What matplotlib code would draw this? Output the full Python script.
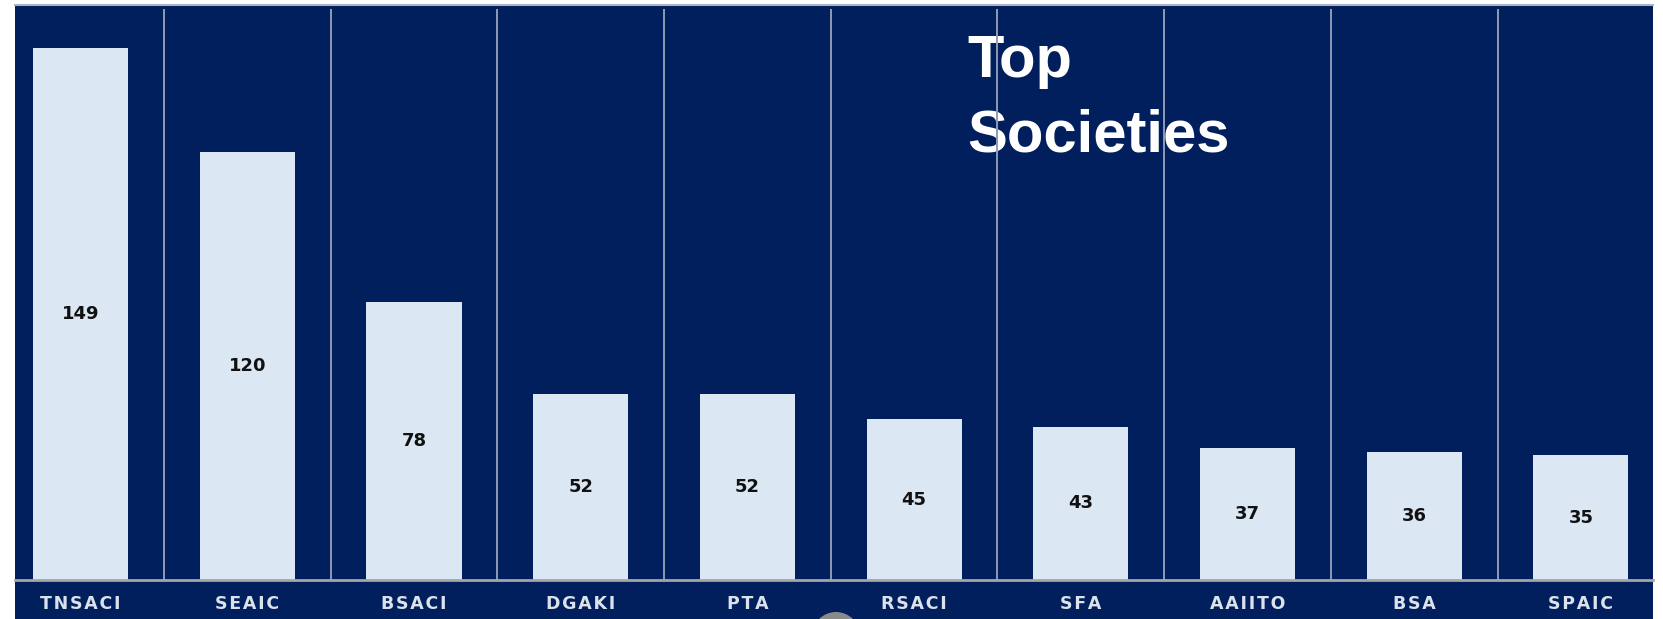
import matplotlib.pyplot as plt
from matplotlib.patches import Rectangle, Circle

societies = ["TNSACI", "SEAIC", "BSACI", "DGAKI", "PTA",
             "RSACI", "SFA", "AAIITO", "BSA", "SPAIC"]
counts = [149, 120, 78, 52, 52, 45, 43, 37, 36, 35]

NAVY = "#001F5C"
BAR = "#DCE7F4"
SEP = "#8F9BB5"

W, H = 1663, 619
fig = plt.figure(figsize=(W / 100, H / 100), dpi=100, facecolor="white")

# navy backdrop, framed like the original slide crop
bg = fig.add_axes([0, 0, 1, 1], zorder=0)
bg.set_xlim(0, W)
bg.set_ylim(H, 0)
bg.axis("off")
bg.add_patch(Rectangle((15, 4), 1638, 615, color=NAVY, lw=0))
bg.plot([15, 1653], [4.5, 4.5], color="#A9B4C9", lw=1.5)
bg.add_patch(Circle((836, 636), 24, color="#8A8A8A", lw=0))

ax = fig.add_axes([0, 1 - 580 / H, 1, (580 - 9) / H], zorder=1)
ax.patch.set_alpha(0)
x = list(range(len(societies)))
bars = ax.bar(x, counts, width=0.57, color=BAR, zorder=2)
ax.set_xlim(-0.4835, 9.4926)
ax.set_ylim(0, 160)

for i in range(1, len(societies)):
    ax.axvline(i - 0.5, color=SEP, lw=1.4, zorder=4)

for rect, v in zip(bars, counts):
    ax.text(rect.get_x() + rect.get_width() / 2, v / 2, str(v),
            ha="center", va="center", fontsize=13, fontweight="bold",
            color="#111111", zorder=5)

for s in ["top", "left", "right", "bottom"]:
    ax.spines[s].set_visible(False)
ax.set_yticks([])
ax.set_xticks(x)
ax.set_xticklabels(["\u200a".join(s) for s in societies], fontsize=12.5,
                   fontweight="bold", color="#DCE2EC")
ax.tick_params(axis="x", length=0, pad=11)

# baseline only across the navy panel
top = fig.add_axes([0, 0, 1, 1], zorder=3)
top.set_xlim(0, W)
top.set_ylim(H, 0)
top.axis("off")
top.plot([15, 1653], [580, 580], color="#A6A6A6", lw=2)

ax.text(967 / W, 1 - 77 / H, "Top", transform=fig.transFigure,
        fontsize=43, fontweight="bold", color="white", family="Liberation Sans",
        ha="left", va="baseline", zorder=1)
ax.text(967 / W, 1 - 152 / H, "Societies", transform=fig.transFigure,
        fontsize=43, fontweight="bold", color="white", family="Liberation Sans",
        ha="left", va="baseline", zorder=1)

fig.savefig("out.png", dpi=100, facecolor="white")
